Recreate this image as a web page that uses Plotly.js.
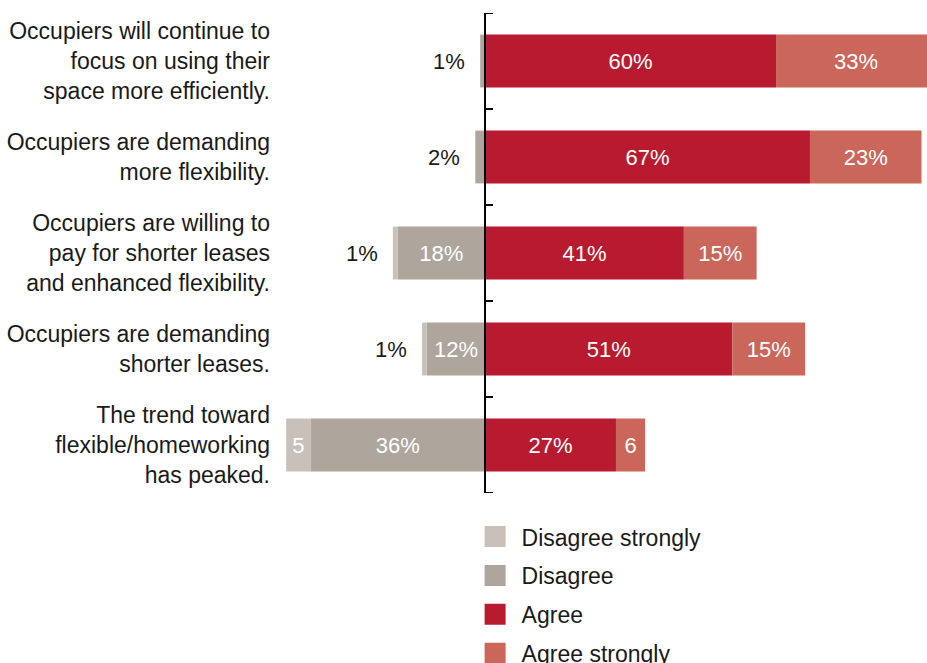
<!DOCTYPE html>
<html><head><meta charset="utf-8">
<script src="https://cdn.plot.ly/plotly-3.0.1.min.js"></script>
<style>html,body{margin:0;padding:0;background:#fff}#chart{width:927px;height:663px}</style>
</head><body><div id="chart"></div>
<script>
const categories = [
  "Occupiers will continue to<br>focus on using their<br>space more efficiently.",
  "Occupiers are demanding<br>more flexibility.",
  "Occupiers are willing to<br>pay for shorter leases<br>and enhanced flexibility.",
  "Occupiers are demanding<br>shorter leases.",
  "The trend toward<br>flexible/homeworking<br>has peaked."
];
const disagreeStrongly = [0, 0, 1, 1, 5];
const disagree = [1, 2, 18, 12, 36];
const agree = [60, 67, 41, 51, 27];
const agreeStrongly = [33, 23, 15, 15, 6];
const seriesNames = ["Disagree strongly", "Disagree", "Agree", "Agree strongly"];
const seriesColors = ["#c9c0b9", "#aea59c", "#b81b30", "#cb665b"];

const FONT = '"Liberation Sans", Arial, Helvetica, sans-serif';
const label = v => v >= 10 ? v + '%' : (v >= 5 ? String(v) : '');

function barTrace(vals, idx, sign) {
  return {
    type: 'bar', orientation: 'h', name: seriesNames[idx],
    y: categories, x: vals.map(v => sign * v),
    marker: {color: seriesColors[idx], line: {width: 0}},
    text: vals.map(label), textposition: 'inside', insidetextanchor: 'middle',
    textangle: 0, constraintext: 'none',
    insidetextfont: {color: '#ffffff', size: 22, family: FONT},
    width: 0.55, showlegend: false, hoverinfo: 'skip'
  };
}

const traces = [
  barTrace(disagree, 1, -1),
  barTrace(disagreeStrongly, 0, -1),
  barTrace(agree, 2, 1),
  barTrace(agreeStrongly, 3, 1)
];
// legend-only entries
seriesNames.forEach((n, i) => {
  traces.push({
    type: 'scatter', mode: 'markers', name: n, x: [null], y: [null],
    marker: {symbol: 'square', size: 16, color: seriesColors[i],
             line: {width: 5, color: seriesColors[i]}},
    legendgroup: 'g' + i, showlegend: true, hoverinfo: 'skip'
  });
});

// outside labels for tiny negative values
const annotations = [];
categories.forEach((c, i) => {
  const small = [disagreeStrongly[i], disagree[i]].filter(v => v > 0 && v < 5);
  if (small.length) {
    annotations.push({
      x: -(disagree[i] + disagreeStrongly[i]), y: c, xref: 'x', yref: 'y',
      text: small[0] + '%', showarrow: false, xanchor: 'right', xshift: -13,
      font: {size: 22, color: '#1a1a1a', family: FONT}
    });
  }
});

// axis line at zero with ticks on category boundaries
const shapes = [{
  type: 'line', xref: 'x', yref: 'y', x0: 0, x1: 0, y0: -0.5, y1: categories.length - 0.5,
  line: {color: '#000', width: 2}, layer: 'above'
}];
for (let b = 0; b <= categories.length; b++) {
  shapes.push({
    type: 'line', xref: 'x', yref: 'y', xsizemode: 'pixel', xanchor: 0, x0: 0, x1: 8,
    y0: b - 0.5, y1: b - 0.5, line: {color: '#000', width: 2}, layer: 'above'
  });
}

const layout = {
  width: 927, height: 663,
  margin: {l: 285, r: 0, t: 13, b: 170, autoexpand: false},
  paper_bgcolor: '#fff', plot_bgcolor: '#fff',
  font: {family: FONT, size: 22, color: '#1a1a1a'},
  barmode: 'relative',
  xaxis: {range: [-41.24, 91.13], visible: false, fixedrange: true},
  yaxis: {type: 'category', categoryarray: categories, range: [categories.length - 0.5, -0.5],
          showline: false, showgrid: false, zeroline: false, ticks: '',
          ticklabelstandoff: 14, automargin: false, fixedrange: true,
          tickfont: {size: 23, color: '#1a1a1a', family: FONT}},
  showlegend: true,
  legend: {orientation: 'v', x: 0.286, xanchor: 'left', y: -0.046, yanchor: 'top',
           font: {size: 23, color: '#1a1a1a', family: FONT}, itemsizing: 'trace',
           itemwidth: 43, tracegroupgap: 6, traceorder: 'grouped', bgcolor: 'rgba(0,0,0,0)'},
  annotations: annotations, shapes: shapes,
  hovermode: false
};

Plotly.newPlot('chart', traces, layout, {displayModeBar: false, staticPlot: true});
</script></body></html>
